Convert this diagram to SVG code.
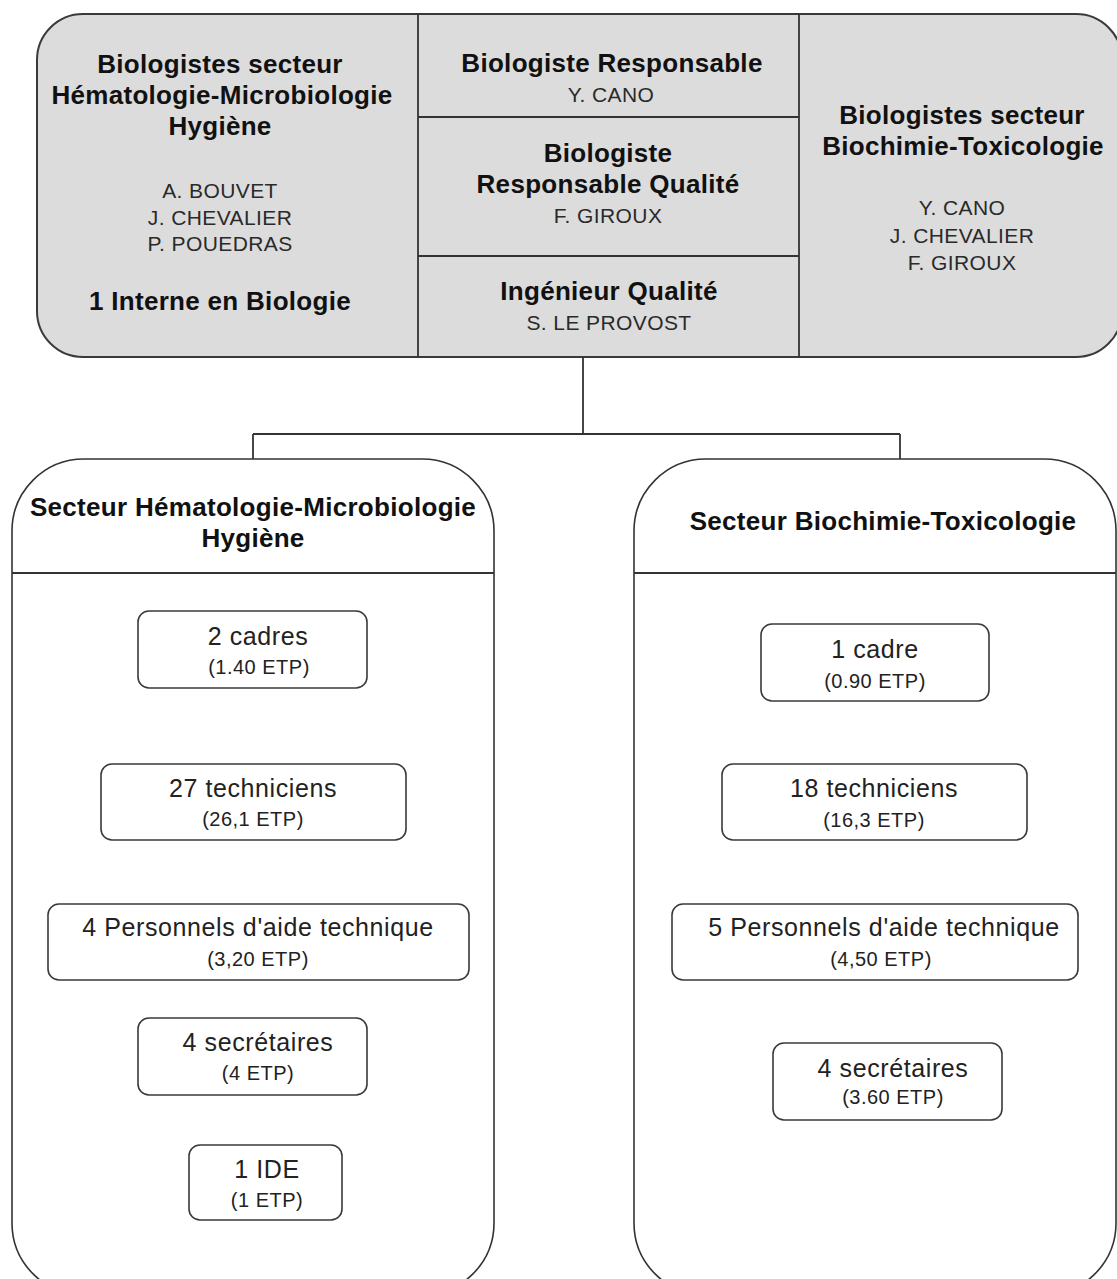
<svg xmlns="http://www.w3.org/2000/svg" width="1117" height="1279" viewBox="0 0 1117 1279">
<style>
.b{font-family:"Liberation Sans",Arial,sans-serif;font-weight:bold;font-size:26px;fill:#111;text-anchor:middle;letter-spacing:0.3px}
.n{font-family:"Liberation Sans",Arial,sans-serif;font-size:21px;fill:#2a2a2a;text-anchor:middle;letter-spacing:0.4px}
.t{font-family:"Liberation Sans",Arial,sans-serif;font-size:25px;fill:#222;text-anchor:middle;letter-spacing:0.6px}
.e{font-family:"Liberation Sans",Arial,sans-serif;font-size:20px;fill:#222;text-anchor:middle;letter-spacing:0.5px}
.box{fill:#fff;stroke:#3a3a3a;stroke-width:1.6}
.sec{fill:#fff;stroke:#333;stroke-width:1.6}
.ln{stroke:#333;stroke-width:1.8;fill:none}
</style>
<rect width="1117" height="1279" fill="#fff"/>

<g id="direction">
<rect x="37" y="14" width="1085" height="343" rx="46" ry="46" fill="#dcdcdc" stroke="#3a3a3a" stroke-width="2"/>
<line class="ln" x1="418" y1="14" x2="418" y2="357"/>
<line class="ln" x1="799" y1="14" x2="799" y2="357"/>
<line class="ln" x1="418" y1="117" x2="799" y2="117"/>
<line class="ln" x1="418" y1="256" x2="799" y2="256"/>
</g>

<g id="bio-hemato">
<text class="b" x="220" y="73">Biologistes secteur</text>
<text class="b" x="222" y="104">Hématologie-Microbiologie</text>
<text class="b" x="220" y="135">Hygiène</text>
<text class="n" x="220" y="198">A. BOUVET</text>
<text class="n" x="220" y="225">J. CHEVALIER</text>
<text class="n" x="220" y="251">P. POUEDRAS</text>
<text class="b" x="220" y="310">1 Interne en Biologie</text>
</g>

<g id="bio-responsable">
<text class="b" x="612" y="72">Biologiste Responsable</text>
<text class="n" x="611" y="102">Y. CANO</text>
</g>

<g id="bio-qualite">
<text class="b" x="608" y="162">Biologiste</text>
<text class="b" x="608" y="193">Responsable Qualité</text>
<text class="n" x="608" y="223">F. GIROUX</text>
</g>

<g id="ingenieur-qualite">
<text class="b" x="609" y="300">Ingénieur Qualité</text>
<text class="n" x="609" y="330">S. LE PROVOST</text>
</g>

<g id="bio-biochimie">
<text class="b" x="962" y="124">Biologistes secteur</text>
<text class="b" x="963" y="155">Biochimie-Toxicologie</text>
<text class="n" x="962" y="215">Y. CANO</text>
<text class="n" x="962" y="243">J. CHEVALIER</text>
<text class="n" x="962" y="270">F. GIROUX</text>
</g>

<g id="connectors">
<path class="ln" d="M583 357 V434 M253 434 H900 M253 434 V459 M900 434 V459"/>
</g>

<g id="secteur-hemato">
<rect class="sec" x="12" y="459" width="482" height="836" rx="72" ry="72"/>
<line class="ln" x1="12" y1="573" x2="494" y2="573"/>
<text class="b" x="253" y="516">Secteur Hématologie-Microbiologie</text>
<text class="b" x="253" y="547">Hygiène</text>
</g>

<g id="secteur-biochimie">
<rect class="sec" x="634" y="459" width="482" height="836" rx="72" ry="72"/>
<line class="ln" x1="634" y1="573" x2="1116" y2="573"/>
<text class="b" x="883" y="530">Secteur Biochimie-Toxicologie</text>
</g>

<g id="h-cadres">
<rect class="box" x="138" y="611" width="229" height="77" rx="11"/>
<text class="t" x="258" y="645">2 cadres</text>
<text class="e" x="259" y="674">(1.40 ETP)</text>
</g>
<g id="h-techniciens">
<rect class="box" x="101" y="764" width="305" height="76" rx="11"/>
<text class="t" x="253" y="797">27 techniciens</text>
<text class="e" x="253" y="826">(26,1 ETP)</text>
</g>
<g id="h-aide">
<rect class="box" x="48" y="904" width="421" height="76" rx="11"/>
<text class="t" x="258" y="936">4 Personnels d'aide technique</text>
<text class="e" x="258" y="966">(3,20 ETP)</text>
</g>
<g id="h-secretaires">
<rect class="box" x="138" y="1018" width="229" height="77" rx="11"/>
<text class="t" x="258" y="1051">4 secrétaires</text>
<text class="e" x="258" y="1080">(4 ETP)</text>
</g>
<g id="h-ide">
<rect class="box" x="189" y="1145" width="153" height="75" rx="11"/>
<text class="t" x="267" y="1178">1 IDE</text>
<text class="e" x="267" y="1207">(1 ETP)</text>
</g>

<g id="b-cadre">
<rect class="box" x="761" y="624" width="228" height="77" rx="11"/>
<text class="t" x="875" y="658">1 cadre</text>
<text class="e" x="875" y="688">(0.90 ETP)</text>
</g>
<g id="b-techniciens">
<rect class="box" x="722" y="764" width="305" height="76" rx="11"/>
<text class="t" x="874" y="797">18 techniciens</text>
<text class="e" x="874" y="827">(16,3 ETP)</text>
</g>
<g id="b-aide">
<rect class="box" x="672" y="904" width="406" height="76" rx="11"/>
<text class="t" x="884" y="936">5 Personnels d'aide technique</text>
<text class="e" x="881" y="966">(4,50 ETP)</text>
</g>
<g id="b-secretaires">
<rect class="box" x="773" y="1043" width="229" height="77" rx="11"/>
<text class="t" x="893" y="1077">4 secrétaires</text>
<text class="e" x="893" y="1104">(3.60 ETP)</text>
</g>
</svg>
